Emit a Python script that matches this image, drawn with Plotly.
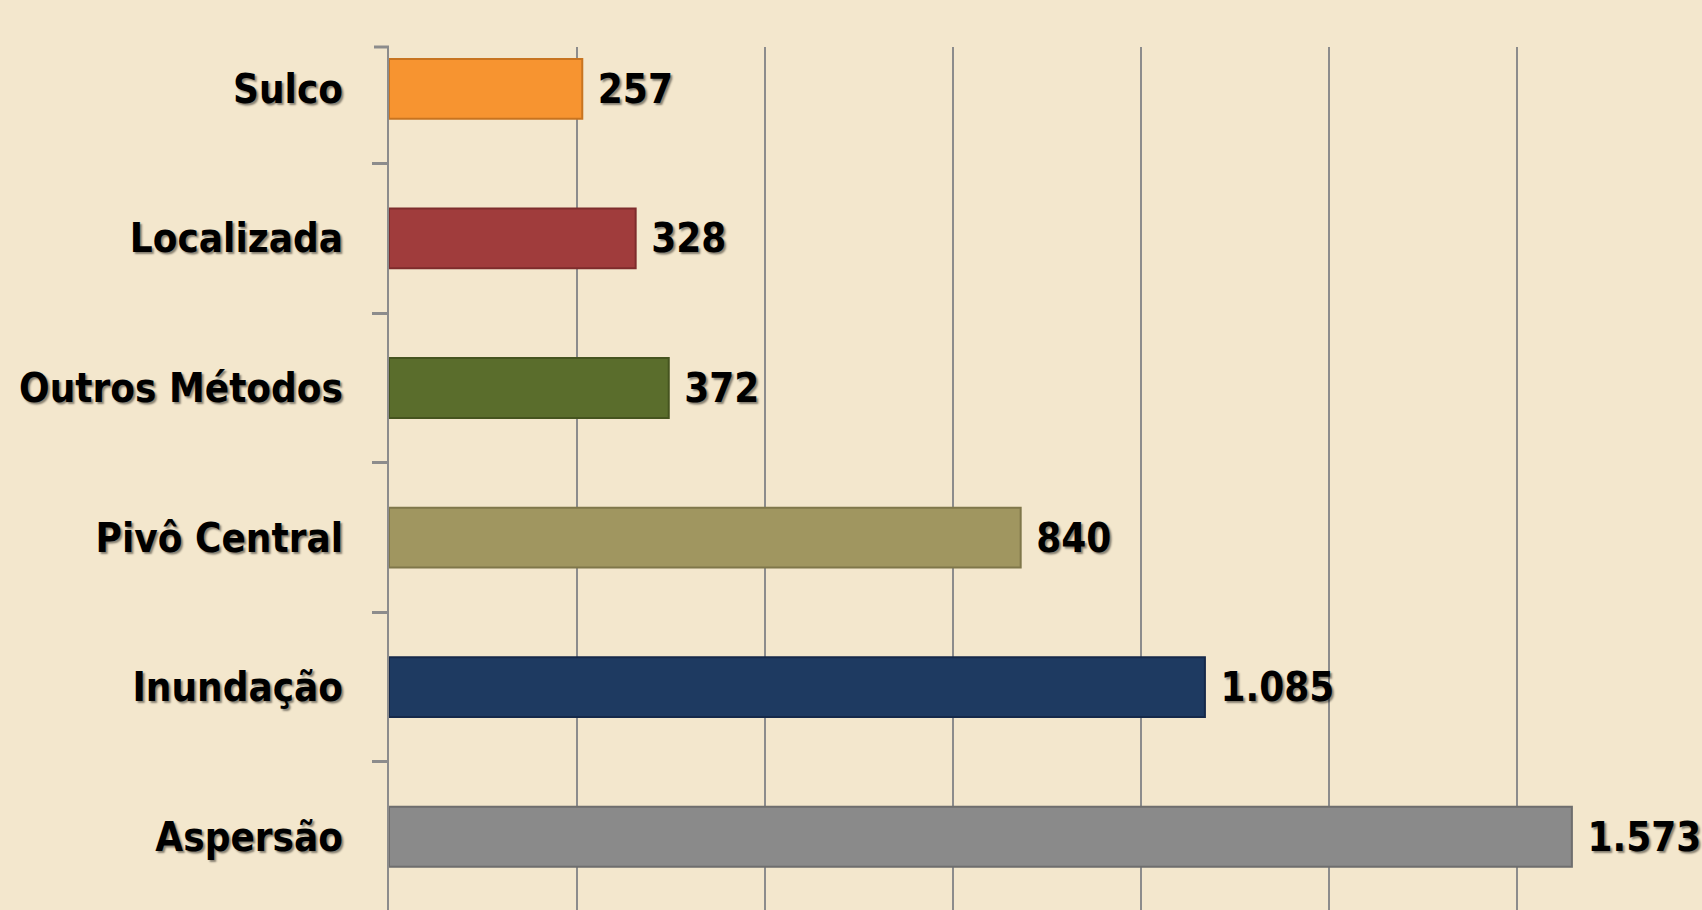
import plotly.graph_objects as go

categories = ["Aspersão", "Inundação", "Pivô Central", "Outros Métodos", "Localizada", "Sulco"]
values = [1573, 1085, 840, 372, 328, 257]
bar_colors = ["#8A8A8A", "#1E3A61", "#A09660", "#5A6D2C", "#A03C3C", "#F79430"]
line_colors = ["#6E6E6E", "#15294A", "#7F774A", "#45541F", "#7E2C2C", "#C87420"]
x_ticks = [0, 250, 500, 750, 1000, 1250, 1500, 1750]

FONT = "DejaVu Sans Condensed, sans-serif"
SHADOW = "2px 2px 2px rgba(0,0,0,0.45)"
FSIZE = 40

fig = go.Figure(go.Bar(
    y=categories,
    x=values,
    orientation="h",
    width=0.4,
    marker=dict(color=bar_colors, line=dict(color=line_colors, width=2)),
    texttemplate="\u00a0%{x:,}",
    textposition="outside",
    constraintext="none",
    cliponaxis=False,
    textfont=dict(family=FONT, size=FSIZE, color="black", weight="bold", shadow=SHADOW),
))

fig.update_layout(
    width=1702, height=910,
    margin=dict(l=389, r=0, t=47, b=0, autoexpand=False),
    paper_bgcolor="#F3E7CD",
    plot_bgcolor="#F3E7CD",
    separators=",.",
    showlegend=False,
    xaxis=dict(
        range=[0, 1746],
        tickvals=x_ticks,
        showticklabels=False,
        showgrid=True,
        gridcolor="#8C8C8C",
        gridwidth=2,
        zeroline=False,
        showline=False,
        automargin=False,
    ),
    yaxis=dict(
        type="category",
        categoryorder="array",
        categoryarray=categories,
        range=[-0.49, 5.28],
        tickson="boundaries",
        ticks="outside",
        ticklen=15,
        tickwidth=3,
        tickcolor="#8C8C8C",
        showline=True,
        linecolor="#8C8C8C",
        linewidth=2,
        showgrid=False,
        automargin=False,
        ticklabelstandoff=36,
        tickfont=dict(family=FONT, size=FSIZE, color="black", weight="bold", shadow=SHADOW),
    ),
    shapes=[dict(
        type="line", xref="paper", yref="paper",
        xsizemode="pixel", xanchor=0, x0=-15, x1=0,
        y0=1, y1=1, line=dict(color="#8C8C8C", width=3),
    )],
)

fig.write_html(
    "out.html",
    config={"displayModeBar": False},
    post_script="document.body.style.margin='0';document.body.style.overflow='hidden';",
)
